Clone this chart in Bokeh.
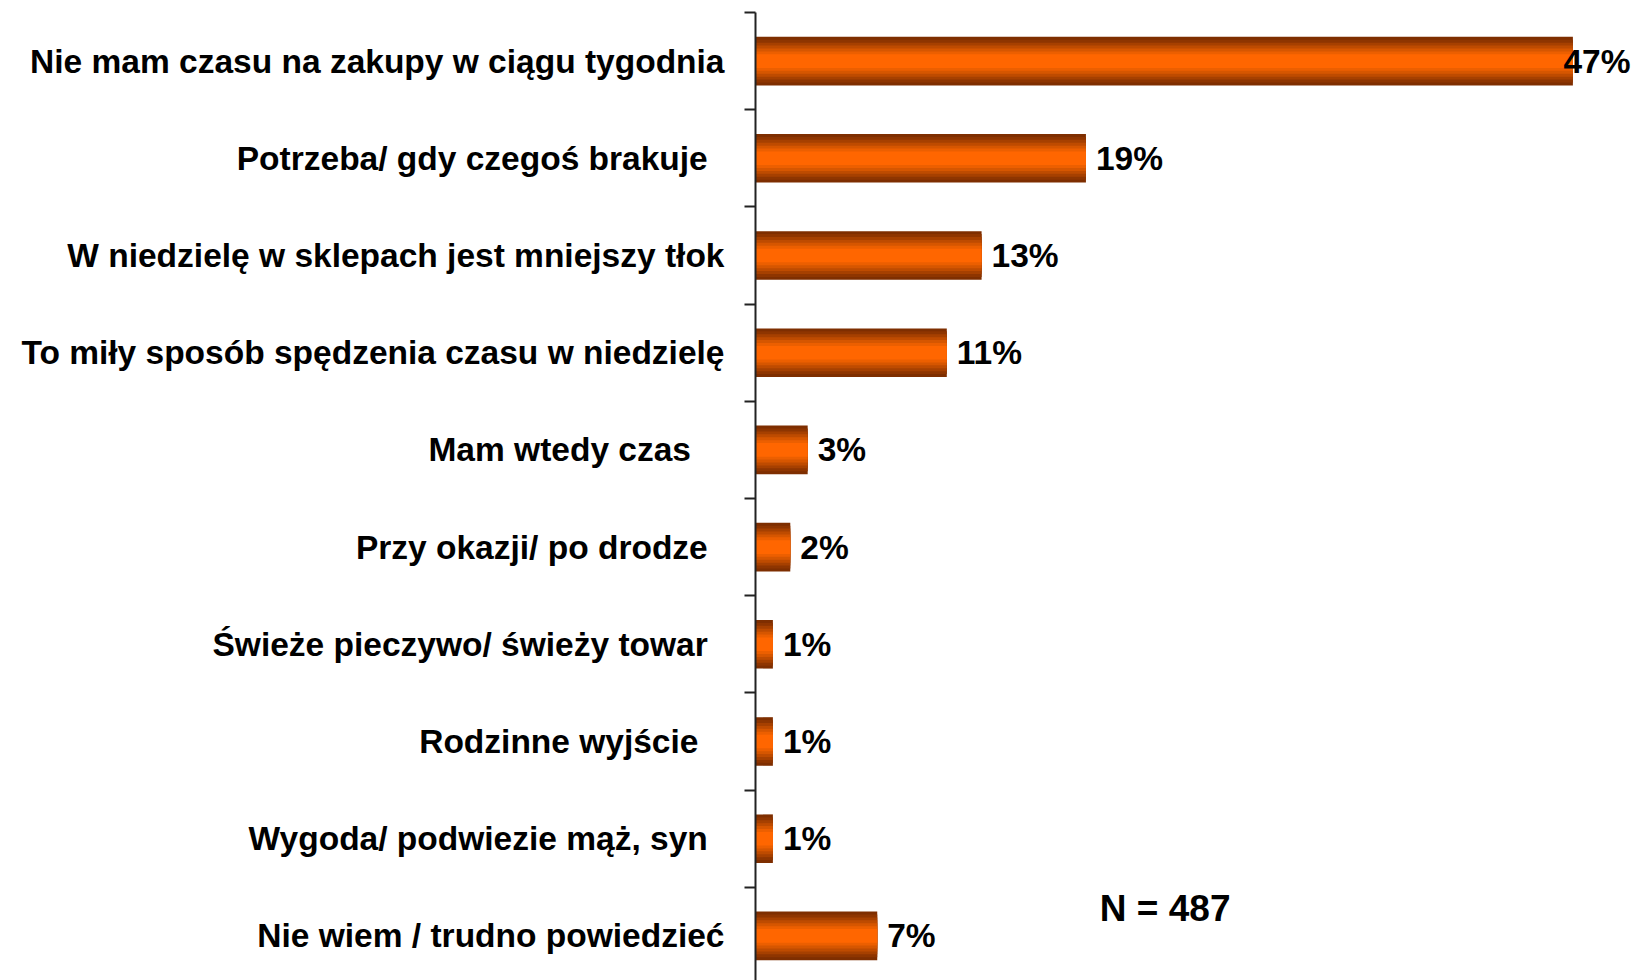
from bokeh.plotting import figure
from bokeh.models import Range1d, LinearAxis, FixedTicker, ColumnDataSource, Label
from bokeh.embed import file_html
from bokeh.resources import INLINE
from bokeh.core.properties import value

# ---- data ----
categories = [
    "Nie mam czasu na zakupy w ciągu tygodnia",
    "Potrzeba/ gdy czegoś brakuje\u2002",
    "W niedzielę w sklepach jest mniejszy tłok",
    "To miły sposób spędzenia czasu w niedzielę",
    "Mam wtedy czas\u2002\u2002",
    "Przy okazji/ po drodze\u2002",
    "Świeże pieczywo/ świeży towar\u2002",
    "Rodzinne wyjście\u2002\u00a0",
    "Wygoda/ podwiezie mąż, syn\u2002",
    "Nie wiem / trudno powiedzieć",
]
values = [47, 19, 13, 11, 3, 2, 1, 1, 1, 7]
value_labels = [f"{v}%" for v in values]
note = "N = 487"

# ---- layout constants ----
X_END = 50.6
Y_BOTTOM = 9.959
FONT = "Liberation Sans"

n = len(categories)
centers = [i + 0.5 for i in range(n)]
boundaries = [float(i) for i in range(n + 1)]

p = figure(
    width=1635, height=980,
    x_range=Range1d(0, X_END), y_range=Range1d(Y_BOTTOM, 0),
    x_axis_location=None, y_axis_location=None,
    output_backend="svg", toolbar_location=None,
    min_border_left=755, min_border_right=0,
    min_border_top=12, min_border_bottom=0,
)
p.grid.visible = False
p.outline_line_color = None
p.background_fill_color = "white"
p.border_fill_color = "white"

yaxis = LinearAxis(
    ticker=FixedTicker(ticks=centers, minor_ticks=boundaries),
    major_label_overrides={c: lab for c, lab in zip(centers, categories)},
)
yaxis.axis_line_color = "#222222"
yaxis.axis_line_width = 2
yaxis.major_tick_line_color = None
yaxis.major_tick_out = 0
yaxis.major_tick_in = 0
yaxis.minor_tick_line_color = "#222222"
yaxis.minor_tick_line_width = 2
yaxis.minor_tick_out = 11
yaxis.minor_tick_in = 0
yaxis.major_label_standoff = 20
yaxis.major_label_text_font = FONT
yaxis.major_label_text_font_size = "33.5px"
yaxis.major_label_text_font_style = "bold"
yaxis.major_label_text_color = "black"
p.add_layout(yaxis, "left")

src = ColumnDataSource(dict(y=centers, v=values))

# gradient-looking bars: stacked layers from dark edge to bright centre
fracs = [1.0, 0.88, 0.76, 0.64, 0.52, 0.40, 0.28]
colors = ["#7E2E00", "#8E3500", "#A64000", "#BE4B00", "#D65600", "#EC5F00", "#FF6600"]
for f, c in zip(fracs, colors):
    p.hbar(y="y", left=0, right="v", height=0.5 * f, fill_color=c,
           line_color=None, source=src)

# value labels
lx, la, lo = [], [], []
for v in values:
    if v > X_END - 4:
        lx.append(X_END); la.append("right"); lo.append(-5)
    else:
        lx.append(v); la.append("left"); lo.append(10)
lsrc = ColumnDataSource(dict(x=lx, y=centers, t=value_labels, a=la, o=lo))
p.text(x="x", y="y", text="t", text_align="a", x_offset="o", source=lsrc,
       text_baseline="middle", text_font=value(FONT), text_font_size="33.5px",
       text_font_style="bold", text_color="black")

p.add_layout(Label(x=19.8, y=9.22, text=note, text_font=FONT, text_font_size="37px",
                   text_font_style="bold", text_baseline="middle", text_color="black"))

open("out.html", "w").write(file_html(p, INLINE))
